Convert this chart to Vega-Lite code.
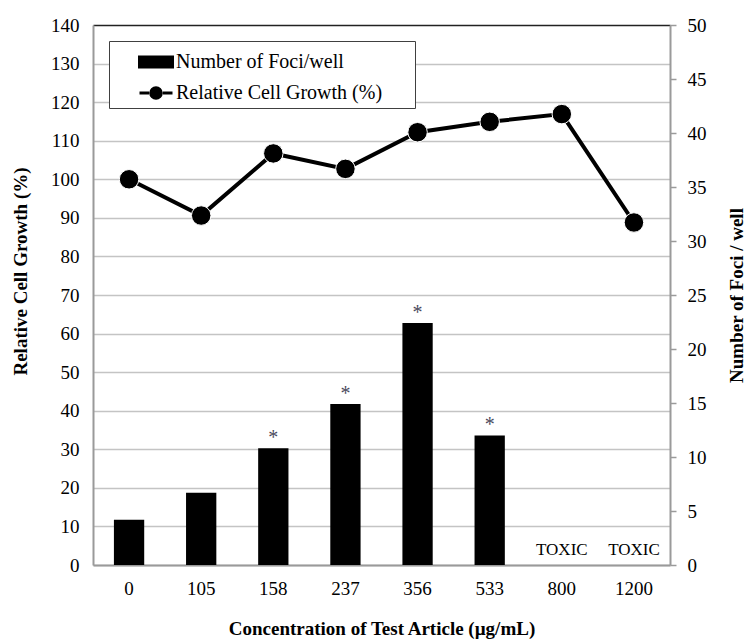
{
  "$schema": "https://vega.github.io/schema/vega-lite/v6.json",
  "width": 577,
  "height": 540,
  "autosize": {"type": "none"},
  "padding": {"left": 93, "top": 25, "right": 78, "bottom": 76},
  "background": "white",
  "config": {
    "view": {"stroke": null},
    "font": "Liberation Serif",
    "axis": {
      "labelFont": "Liberation Serif",
      "labelFontSize": 19,
      "labelColor": "#000000",
      "titleFont": "Liberation Serif",
      "titleFontSize": 19,
      "titleFontWeight": "bold",
      "titleColor": "#000000",
      "domainColor": "#9a9a9a",
      "domainWidth": 2,
      "tickColor": "#9a9a9a",
      "tickWidth": 1.5,
      "gridColor": "#c4c4c4",
      "gridWidth": 1.5
    }
  },
  "data": {
    "values": [
      {"conc": "0", "growth": 100.0, "foci": 4.2, "sig": "", "note": ""},
      {"conc": "105", "growth": 90.6, "foci": 6.7, "sig": "", "note": ""},
      {"conc": "158", "growth": 106.7, "foci": 10.8, "sig": "*", "note": ""},
      {"conc": "237", "growth": 102.7, "foci": 14.9, "sig": "*", "note": ""},
      {"conc": "356", "growth": 112.2, "foci": 22.4, "sig": "*", "note": ""},
      {"conc": "533", "growth": 114.9, "foci": 12.0, "sig": "*", "note": ""},
      {"conc": "800", "growth": 116.9, "foci": null, "sig": "", "note": "TOXIC"},
      {"conc": "1200", "growth": 88.8, "foci": null, "sig": "", "note": "TOXIC"}
    ]
  },
  "encoding": {
    "x": {
      "field": "conc",
      "type": "nominal",
      "sort": null,
      "scale": {"paddingInner": 0.58, "paddingOuter": 0.29},
      "axis": {
        "labelAngle": 0,
        "ticks": false,
        "labelPadding": 14,
        "title": "Concentration of Test Article (µg/mL)",
        "titlePadding": 21
      }
    }
  },
  "layer": [
    {
      "layer": [
        {
          "mark": {"type": "bar", "color": "#000000"},
          "encoding": {
            "y": {
              "field": "foci",
              "type": "quantitative",
              "scale": {"domain": [0, 50], "nice": false},
              "axis": {
                "orient": "right",
                "values": [0, 5, 10, 15, 20, 25, 30, 35, 40, 45, 50],
                "grid": false,
                "tickSize": 6,
                "labelPadding": 11,
                "title": "Number of Foci / well",
                "titleAngle": 270,
                "titlePadding": 40
              }
            },
            "color": {
              "datum": "Number of Foci/well",
              "type": "nominal",
              "scale": {"domain": ["Number of Foci/well", "Relative Cell Growth (%)"], "range": ["#000000", "#000000"]},
              "legend": {
                "orient": "top-left",
                "offset": 16,
                "title": null,
                "strokeColor": "#404040",
                "fillColor": "#ffffff",
                "padding": 3,
                "rowPadding": 2,
                "symbolOffset": 26,
                "symbolSize": 1089,
                "labelFont": "Liberation Serif",
                "labelFontSize": 20,
                "labelColor": "#000000",
                "labelOffset": 2,
                "labelLimit": 500,
                "encoding": {
                  "symbols": {
                    "shape": {
                      "condition": {"test": "datum.value === 'Number of Foci/well'", "value": "M-1,-0.3H1V0.3H-1ZM15.1,0"},
                      "value": "M-1,0H-0.42M0.42,0H1M-0.32,0A0.32,0.32 0 1,0 0.32,0A0.32,0.32 0 1,0 -0.32,0ZM15.1,0"
                    },
                    "fill": {"value": "#000000"},
                    "stroke": {"value": "#000000"},
                    "strokeWidth": {"value": 3},
                    "opacity": {"value": 1}
                  }
                }
              }
            }
          }
        },
        {
          "mark": {"type": "text", "dy": -10, "baseline": "middle", "fontSize": 20, "color": "#4a4a5c", "font": "Liberation Serif"},
          "encoding": {
            "y": {
              "field": "foci",
              "type": "quantitative",
              "scale": {"domain": [0, 50], "nice": false},
              "axis": {
                "orient": "right",
                "values": [0, 5, 10, 15, 20, 25, 30, 35, 40, 45, 50],
                "grid": false,
                "tickSize": 6,
                "labelPadding": 11,
                "title": "Number of Foci / well",
                "titleAngle": 270,
                "titlePadding": 40
              }
            },
            "text": {"field": "sig"}
          }
        },
        {
          "mark": {"type": "text", "dy": -15, "baseline": "middle", "fontSize": 17, "color": "#000000", "font": "Liberation Serif"},
          "encoding": {
            "y": {
              "datum": 0,
              "type": "quantitative",
              "scale": {"domain": [0, 50], "nice": false},
              "axis": {
                "orient": "right",
                "values": [0, 5, 10, 15, 20, 25, 30, 35, 40, 45, 50],
                "grid": false,
                "tickSize": 6,
                "labelPadding": 11,
                "title": "Number of Foci / well",
                "titleAngle": 270,
                "titlePadding": 40
              }
            },
            "text": {"field": "note"}
          }
        }
      ]
    },
    {
      "encoding": {
        "y": {
          "field": "growth",
          "type": "quantitative",
          "scale": {"domain": [0, 140], "nice": false},
          "axis": {
            "orient": "left",
            "values": [0, 10, 20, 30, 40, 50, 60, 70, 80, 90, 100, 110, 120, 130, 140],
            "grid": true,
            "ticks": false,
            "tickSize": 0,
            "labelPadding": 14,
            "title": "Relative Cell Growth (%)",
            "titlePadding": 20,
            "titleY": 246,
            "gridColor": {"condition": {"test": "datum.value === 140", "value": "#222222"}, "value": "#c4c4c4"}
          }
        }
      },
      "layer": [
        {
          "mark": {"type": "line", "color": "#000000", "strokeWidth": 4}
        },
        {
          "mark": {"type": "point", "filled": true, "size": 380, "stroke": "#ffffff", "strokeWidth": 1, "opacity": 1},
          "encoding": {
            "color": {
              "datum": "Relative Cell Growth (%)",
              "type": "nominal",
              "scale": {"domain": ["Number of Foci/well", "Relative Cell Growth (%)"], "range": ["#000000", "#000000"]},
              "legend": null
            }
          }
        }
      ]
    }
  ],
  "resolve": {"scale": {"y": "independent"}}
}
